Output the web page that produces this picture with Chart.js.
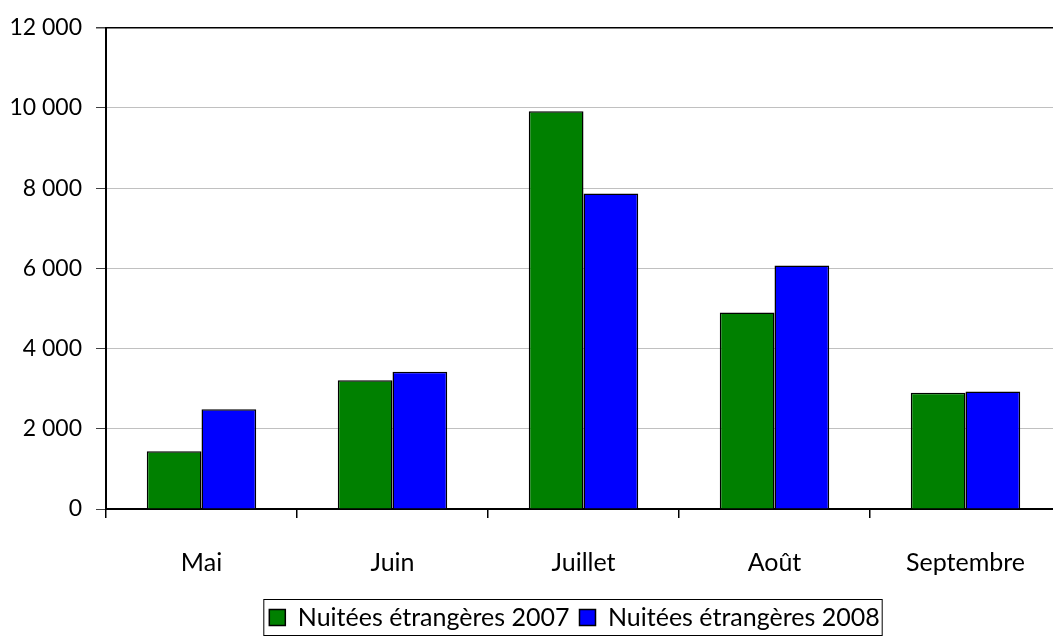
<!DOCTYPE html>
<html>
<head>
<meta charset="utf-8">
<script src="https://cdn.jsdelivr.net/npm/chart.js@4"></script>
<style>
  html, body { margin: 0; padding: 0; background: #fff; overflow: hidden; }
  #wrap { width: 1053px; height: 642px; overflow: hidden; }
</style>
</head>
<body>
<div id="wrap"><canvas id="chart" width="1062" height="642"></canvas></div>
<script>
// data
var categories = ['Mai', 'Juin', 'Juillet', 'Août', 'Septembre'];
var nuitees_2007 = [1440, 3210, 9920, 4900, 2900];
var nuitees_2008 = [2490, 3420, 7870, 6070, 2930];
var series_labels = ['Nuitées étrangères 2007', 'Nuitées étrangères 2008'];
var y_max = 12000;
var y_step = 2000;

var font_name = "'Gill Sans', 'Gill Sans MT', Lato, 'DejaVu Sans', sans-serif";

function format_number(v){
    return String(v).replace(/\B(?=(\d{3})+(?!\d))/g, ' ');
}

//Moves the legend and draws the frame around it
var legend_frame = {
    id: 'legend_frame',
    afterLayout: function(chart){
        chart.legend.left -= 9;
        chart.legend.right -= 9;
    },
    afterDraw: function(chart){
        var boxes = chart.legend.legendHitBoxes;
        if(!boxes || !boxes.length) return;
        var first = boxes[0];
        var last = boxes[boxes.length - 1];
        var ctx = chart.ctx;
        ctx.save();
        ctx.strokeStyle = '#000';
        ctx.lineWidth = 1;
        ctx.strokeRect(first.left - 5.5, first.top - 5.5, last.left + last.width - first.left + 8, first.height + 11);
        ctx.restore();
    }
};

new Chart(document.getElementById('chart'), {
    type: 'bar',
    data: {
        labels: categories,
        datasets: [{
            label: series_labels[0],
            data: nuitees_2007,
            backgroundColor: '#008000',
            borderColor: '#000',
            borderWidth: 1.5
        }, {
            label: series_labels[1],
            data: nuitees_2008,
            backgroundColor: '#0000ff',
            borderColor: '#000',
            borderWidth: 1.5
        }]
    },
    options: {
        responsive: false,
        animation: false,
        categoryPercentage: 0.573,
        barPercentage: 1,
        layout: { padding: { top: 27, right: 1, left: 0, bottom: 2 } },
        plugins: {
            tooltip: { enabled: false },
            legend: {
                position: 'bottom',
                fullSize: false,
                labels: {
                    color: '#000',
                    font: { family: font_name, size: 25 },
                    boxWidth: 16,
                    boxHeight: 16,
                    padding: 10,
                    useBorderRadius: false
                }
            }
        },
        scales: {
            x: {
                grid: {
                    display: true,
                    offset: true,
                    drawOnChartArea: false,
                    tickLength: 9,
                    color: '#000',
                    lineWidth: 1.5
                },
                border: { display: true, color: '#000', width: 2 },
                ticks: {
                    color: '#000',
                    font: { family: font_name, size: 25 },
                    padding: 30,
                    maxRotation: 0
                },
                afterFit: function(scale){ scale.height = 86; }
            },
            y: {
                min: 0,
                max: y_max,
                grid: {
                    color: function(c){ return c.tick && c.tick.value === y_max ? '#000' : '#c0c0c0'; },
                    lineWidth: function(c){ return c.tick && c.tick.value === y_max ? 1.5 : 1; },
                    tickColor: '#404040',
                    tickLength: 10
                },
                border: { display: true, color: '#000', width: 2 },
                ticks: {
                    stepSize: y_step,
                    color: '#000',
                    font: { family: font_name, size: 23 },
                    padding: 14,
                    callback: function(v){ return format_number(v); }
                },
                afterFit: function(scale){ scale.width = 106; }
            }
        }
    },
    plugins: [legend_frame]
});
</script>
</body>
</html>
